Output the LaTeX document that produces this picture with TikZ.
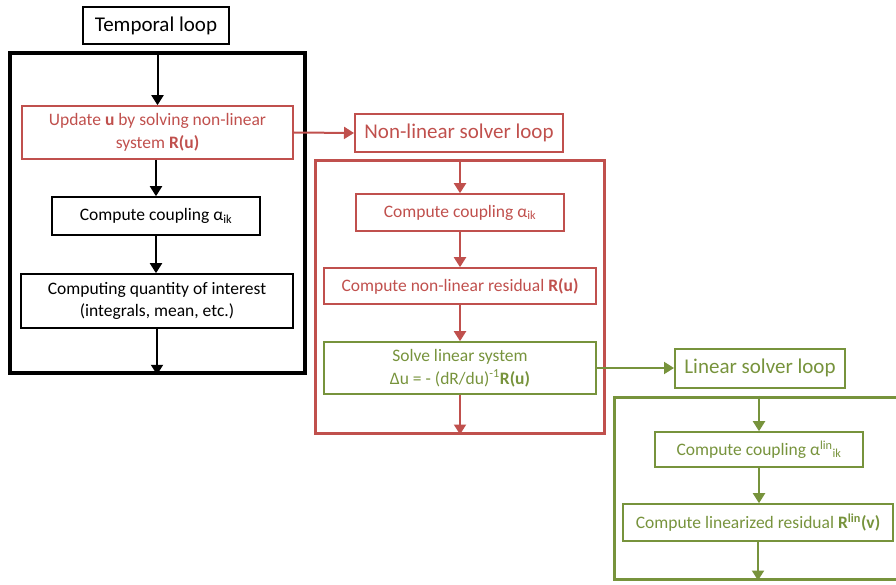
\documentclass[tikz,border=0pt]{standalone}
\usepackage{fontspec}
\setmainfont{Carlito}
\usetikzlibrary{positioning, arrows.meta}
\definecolor{nlred}{HTML}{C0504D}
\definecolor{lingreen}{HTML}{77933C}
\tikzset{
    x=1pt, y=-1pt,
    >={Triangle[length=10pt,width=12pt]}, % filled heads
    looptitle/.style={draw, line width=2pt, inner sep=0pt, font=\fontsize{21}{25}\selectfont}, % loop names
    stepbox/.style={draw, line width=1.6pt, inner sep=0pt, align=center, font=\fontsize{17.5}{22.5}\selectfont}, % single steps
    loopframe/.style={draw, line width=3pt, inner sep=0pt}, % the loop bodies
    flow/.style={->, line width=2pt},
}

\begin{document}
\begin{tikzpicture}
\useasboundingbox (0,0) rectangle (896,585);
% temporal loop
\node[looptitle, minimum width=146pt, minimum height=37pt] (temporal) at (156,25.5) {Temporal loop};
\node[loopframe, line width=3.5pt, minimum width=295pt, minimum height=320pt] (tframe) at (157.5,213) {};
\node[stepbox, nlred, minimum width=271pt, minimum height=53pt] (upd) at (157.5,132.5) {Update \textbf{u} by solving non-linear\\system \textbf{R(u)}};
\node[stepbox, minimum width=208pt, minimum height=38pt] (cpl) at (156,216) {Compute coupling α\textsubscript{ik}};
\node[stepbox, minimum width=272pt, minimum height=54pt] (qoi) at (157,301) {Computing quantity of interest\\(integrals, mean, etc.)};
\draw[flow] (upd.north |- tframe.north) -- (upd.north);
\draw[flow] (upd.south -| cpl.north) -- (cpl.north);
\draw[flow] (cpl.south) -- (cpl.south |- qoi.north);
\draw[flow] (qoi.south) -- (qoi.south |- tframe.south);
% non-linear solver loop
\node[looptitle, nlred, minimum width=208pt, minimum height=38pt] (nltitle) at (459,133) {Non-linear solver loop};
\node[loopframe, nlred, minimum width=289pt, minimum height=272pt] (nlframe) at (459.5,297) {};
\node[stepbox, nlred, minimum width=208pt, minimum height=37pt] (nlcpl) at (460,212.5) {Compute coupling α\textsubscript{ik}};
\node[stepbox, nlred, minimum width=272pt, minimum height=36pt] (nlres) at (460,286) {Compute non-linear residual \textbf{R(u)}};
\node[stepbox, lingreen, minimum width=272pt, minimum height=52pt] (solve) at (460,368) {Solve linear system\\Δu = - (dR/du)\textsuperscript{-1}\textbf{R(u)}};
\draw[flow, nlred] (upd.east) -- (nltitle.west);
\draw[flow, nlred] (nlcpl.north |- nlframe.north) -- (nlcpl.north);
\draw[flow, nlred] (nlcpl.south) -- (nlres.north);
\draw[flow, nlred] (nlres.south) -- (solve.north);
\draw[flow, nlred] (solve.south) -- (solve.south |- nlframe.south);
% linear solver loop
\node[looptitle, lingreen, minimum width=170pt, minimum height=39pt] (lintitle) at (760,368) {Linear solver loop};
\node[loopframe, lingreen, minimum width=292pt, minimum height=182pt] (linframe) at (760,488) {};
\node[stepbox, lingreen, minimum width=208pt, minimum height=35pt] (lincpl) at (759,449.5) {Compute coupling α\textsuperscript{lin}\textsubscript{ik}};
\node[stepbox, lingreen, minimum width=270pt, minimum height=37pt] (linres) at (758,522.5) {Compute linearized residual \textbf{R\textsuperscript{lin}(v)}};
\draw[flow, lingreen] (solve.east) -- (lintitle.west);
\draw[flow, lingreen] (lincpl.north |- linframe.north) -- (lincpl.north);
\draw[flow, lingreen] (lincpl.south) -- (lincpl.south |- linres.north);
\draw[flow, lingreen] (linres.south) -- (linres.south |- linframe.south);
\end{tikzpicture}
\end{document}
